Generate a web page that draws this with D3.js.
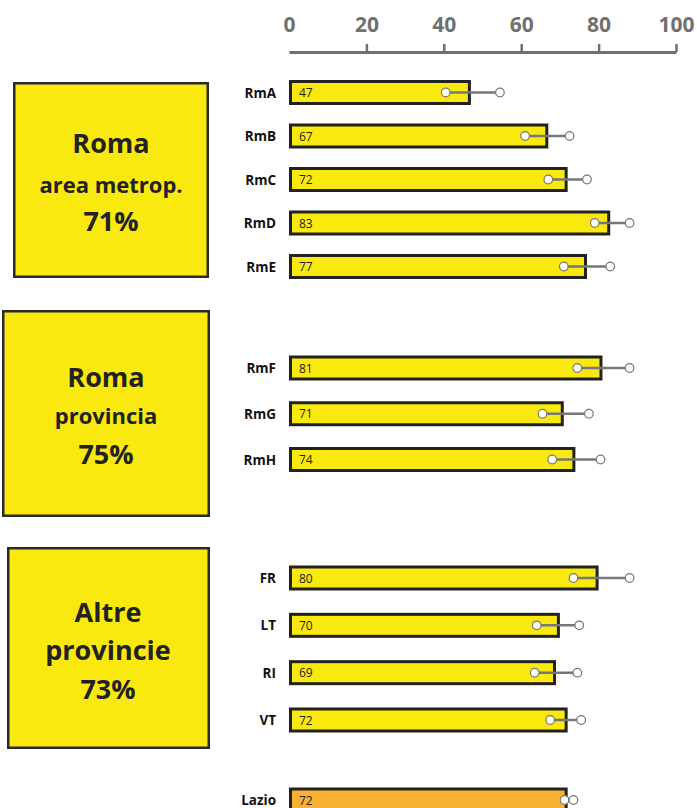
<!DOCTYPE html>
<html lang="it">
<head>
<meta charset="utf-8">
<title>Lazio</title>
<script src="https://cdnjs.cloudflare.com/ajax/libs/d3/7.8.5/d3.min.js"></script>
<style>
  body { margin: 0; background: #fff; }
  svg { display: block; font-family: "Open Sans", "Noto Sans", sans-serif; }
</style>
</head>
<body>
<svg width="697" height="808"></svg>
<script>
// data
var categories = ["RmA", "RmB", "RmC", "RmD", "RmE", "RmF", "RmG", "RmH", "FR", "LT", "RI", "VT", "Lazio"];
var values     = [47, 67, 72, 83, 77, 81, 71, 74, 80, 70, 69, 72, 72];
var lows       = [40.5, 61, 67, 79, 71, 74.5, 65.5, 68, 73.5, 64, 63.5, 67.5, 71.2];
var highs      = [54.5, 72.5, 77, 88, 83, 88, 77.5, 80.5, 88, 75, 74.5, 75.5, 73.5];
var groupOf    = [0, 0, 0, 0, 0, 1, 1, 1, 2, 2, 2, 2, 3];
var groupTitle = ["Roma", "Roma", "Altre"];
var groupSub   = ["area metrop.", "provincia", "provincie"];
var groupPct   = [71, 75, 73];
var ticks      = [0, 20, 40, 60, 80, 100];

// layout per group: row centre range, box, text
var layout = [
  {rows: [92.5, 266.5], box: [13, 82, 196, 196], cx: 111, base: [153, 193, 231], size: [27, 22, 27]},
  {rows: [368, 459.5], box: [2, 310, 208, 207], cx: 106, base: [387, 424, 464], size: [27, 22, 27]},
  {rows: [578, 720], box: [7, 547, 203, 202], cx: 108, base: [622, 660, 699], size: [27, 27, 27]},
  {rows: [800, 800]}
];

var svg = d3.select("svg");
var x = d3.scaleLinear().domain([0, 100]).range([289, 676]);

// one point scale per group
var yScales = layout.map(function(l, gi) {
  var cats = categories.filter(function(c, i) { return groupOf[i] == gi; });
  return d3.scalePoint().domain(cats).range(l.rows);
});
function yc(i) { return yScales[groupOf[i]](categories[i]); }

// axis on top
var ax = svg.append("g")
  .attr("transform", "translate(0,52)")
  .call(d3.axisTop(x).tickValues(ticks).tickSize(8).tickSizeOuter(0).tickPadding(12));
ax.select(".domain").attr("stroke", "#707070").attr("stroke-width", 3);
ax.selectAll(".tick line").attr("stroke", "#707070").attr("stroke-width", 2.5)
  .attr("display", function(d) { return d == 0 ? "none" : null; });
ax.selectAll(".tick text").attr("fill", "#707070").attr("font-size", 21).attr("font-weight", 700)
  .attr("font-family", "'Open Sans', sans-serif");

// group boxes
var boxes = svg.selectAll(".box").data([0, 1, 2]).enter().append("g");
boxes.append("rect")
  .attr("x", function(g) { return layout[g].box[0] + 1.25; })
  .attr("y", function(g) { return layout[g].box[1] + 1.25; })
  .attr("width", function(g) { return layout[g].box[2] - 2.5; })
  .attr("height", function(g) { return layout[g].box[3] - 2.5; })
  .attr("fill", "#f9e90e").attr("stroke", "#2a2a2a").attr("stroke-width", 2.5);
[function(g) { return groupTitle[g]; }, function(g) { return groupSub[g]; }, function(g) { return groupPct[g] + "%"; }]
  .forEach(function(f, k) {
    boxes.append("text")
      .attr("x", function(g) { return layout[g].cx; })
      .attr("y", function(g) { return layout[g].base[k]; })
      .attr("text-anchor", "middle").attr("font-weight", 700).attr("fill", "#222")
      .attr("font-size", function(g) { return layout[g].size[k]; })
      .text(f);
  });

// rows
var rows = svg.selectAll(".row").data(d3.range(categories.length)).enter().append("g")
  .attr("transform", function(i) { return "translate(0," + yc(i) + ")"; });

rows.append("rect")
  .attr("x", x(0) + 1.5).attr("y", -11)
  .attr("width", function(i) { return x(values[i]) - x(0) - 3; })
  .attr("height", 22)
  .attr("fill", function(i) { return groupOf[i] == 3 ? "#f8b133" : "#f9e90e"; })
  .attr("stroke", "#222").attr("stroke-width", 3);

rows.append("text")
  .attr("x", 276).attr("y", 5)
  .attr("text-anchor", "end").attr("font-size", 13.5).attr("font-weight", 700).attr("fill", "#111")
  .text(function(i) { return categories[i]; });

rows.append("text")
  .attr("x", 299).attr("y", 4.5)
  .attr("font-size", 12).attr("fill", "#222")
  .text(function(i) { return values[i]; });

rows.append("line")
  .attr("x1", function(i) { return x(lows[i]); })
  .attr("x2", function(i) { return x(highs[i]); })
  .attr("stroke", "#777").attr("stroke-width", 2.5);

rows.selectAll("circle").data(function(i) { return [lows[i], highs[i]]; }).enter().append("circle")
  .attr("cx", function(d) { return x(d); })
  .attr("r", 4.3)
  .attr("fill", "#fff").attr("stroke", "#777").attr("stroke-width", 1.2);
</script>
</body>
</html>
